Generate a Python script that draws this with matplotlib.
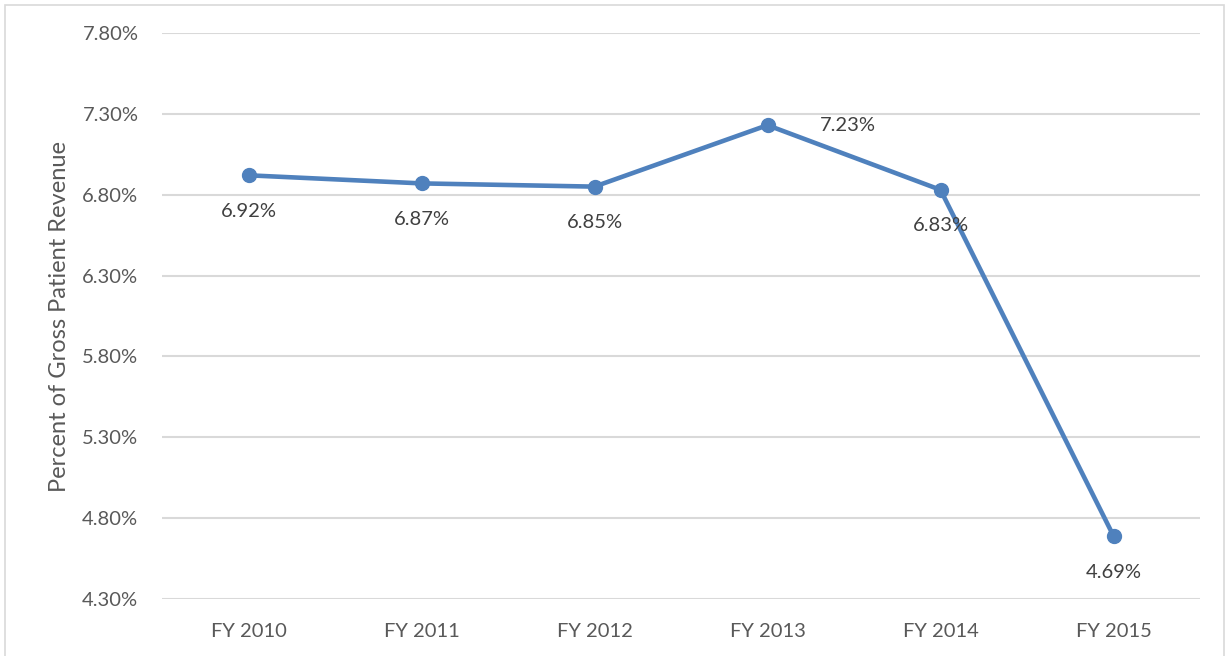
import matplotlib.pyplot as plt
from matplotlib.patches import Rectangle

years = ['FY 2010', 'FY 2011', 'FY 2012', 'FY 2013', 'FY 2014', 'FY 2015']
pct = [6.92, 6.87, 6.85, 7.23, 6.83, 4.69]
yticks = [4.30, 4.80, 5.30, 5.80, 6.30, 6.80, 7.30, 7.80]

plt.rcParams['font.family'] = ['Lato', 'DejaVu Sans']
txt = '#595959'
blue = '#4f81bd'

fig = plt.figure(figsize=(12.27, 6.56), dpi=100)
fig.patches.append(Rectangle((5 / 1227, -0.01), 1219 / 1227, 1 - 5 / 656 + 0.01,
                             transform=fig.transFigure, fill=False,
                             edgecolor='#d9d9d9', linewidth=1.2))
ax = fig.add_axes([162 / 1227, 57 / 656, 1038 / 1227, 566 / 656])

x = list(range(len(years)))
ax.plot(x, pct, color=blue, linewidth=3.3, marker='o', markersize=10, zorder=3,
        solid_capstyle='round', clip_on=False)

# data labels: below the point, except FY 2013 which sits to the right
for i, v in enumerate(pct):
    if i == 3:
        ax.annotate(f'{v:.2f}%', (i, v), xytext=(58, 0), textcoords='offset points',
                    ha='center', va='center', fontsize=14.5, color='#404040')
    else:
        ax.annotate(f'{v:.2f}%', (i, v), xytext=(0, -26), textcoords='offset points',
                    ha='center', va='center', fontsize=14.5, color='#404040')

ax.set_xlim(-0.5, len(years) - 0.5)
ax.set_ylim(4.30, 7.80)
ax.set_xticks(x)
ax.set_xticklabels(years)
ax.set_yticks(yticks)
ax.set_yticklabels([f'{t:.2f}%' for t in yticks])
ax.tick_params(length=0, labelsize=14.5, labelcolor=txt)
ax.tick_params(axis='x', pad=17)
ax.tick_params(axis='y', pad=17)
ax.grid(axis='y', color='#d9d9d9', linewidth=1.5)
ax.set_axisbelow(True)
for s in ax.spines.values():
    s.set_visible(False)
ax.set_ylabel('Percent of Gross Patient Revenue', fontsize=17, color=txt, labelpad=9)

fig.savefig('out.png', dpi=100)
